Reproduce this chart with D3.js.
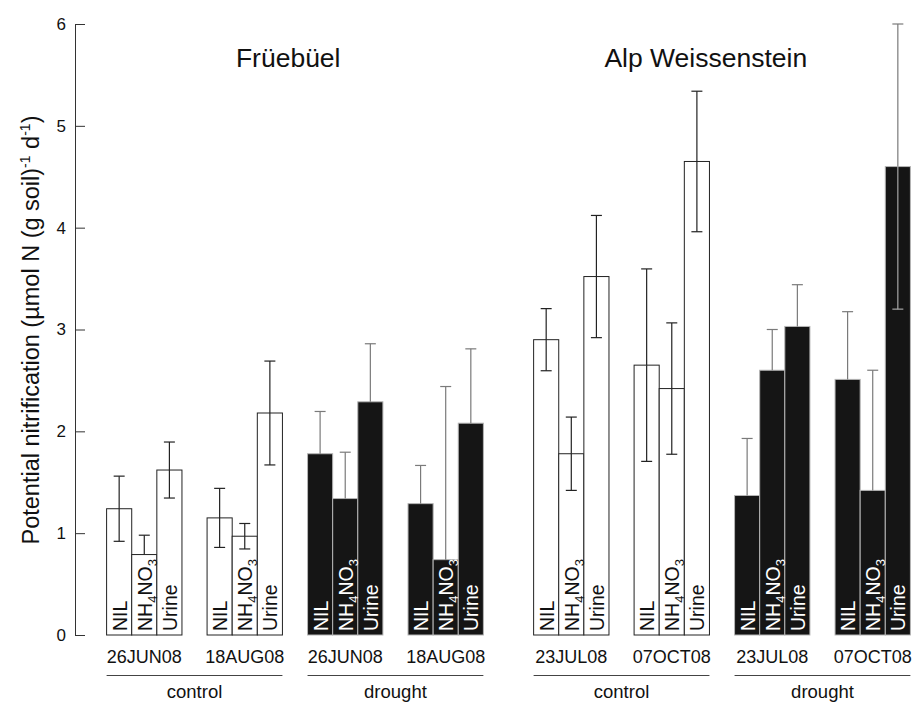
<!DOCTYPE html>
<html>
<head>
<meta charset="utf-8">
<script src="https://cdn.jsdelivr.net/npm/d3@7"></script>
<style>
  html, body { margin: 0; padding: 0; background: #fff; }
  svg { display: block; font-family: "Liberation Sans", Arial, Helvetica, sans-serif; }
</style>
</head>
<body>
<svg id="chart" width="915" height="704"></svg>
<script>
// ---------------- data ----------------
const sites = ["Früebüel", "Alp Weissenstein"];
const treatments = ["control", "drought"];
const siteDates = [["26JUN08", "18AUG08"], ["23JUL08", "07OCT08"]];
const fertilizers = ["NIL", "NH4NO3", "Urine"];
const yTicks = [0, 1, 2, 3, 4, 5, 6];

// means per group (site, treatment, date) : NIL, NH4NO3, Urine
const meanFrCtrl26Jun = [1.24, 0.79, 1.62];
const meanFrCtrl18Aug = [1.15, 0.97, 2.18];
const meanFrDrou26Jun = [1.78, 1.34, 2.29];
const meanFrDrou18Aug = [1.29, 0.74, 2.08];
const meanAwCtrl23Jul = [2.90, 1.78, 3.52];
const meanAwCtrl07Oct = [2.65, 2.42, 4.65];
const meanAwDrou23Jul = [1.37, 2.60, 3.03];
const meanAwDrou07Oct = [2.51, 1.42, 4.60];

// standard errors
const errFrCtrl26Jun = [0.32, 0.19, 0.275];
const errFrCtrl18Aug = [0.29, 0.125, 0.51];
const errFrDrou26Jun = [0.415, 0.455, 0.57];
const errFrDrou18Aug = [0.375, 1.70, 0.73];
const errAwCtrl23Jul = [0.305, 0.36, 0.60];
const errAwCtrl07Oct = [0.945, 0.645, 0.69];
const errAwDrou23Jul = [0.56, 0.40, 0.41];
const errAwDrou07Oct = [0.665, 1.18, 1.40];

// whether the lower whisker is visible in the figure
const lowFrCtrl26Jun = [true, false, true];
const lowFrCtrl18Aug = [true, true, true];
const lowFrDrou26Jun = [false, false, false];
const lowFrDrou18Aug = [false, false, false];
const lowAwCtrl23Jul = [true, true, true];
const lowAwCtrl07Oct = [true, true, true];
const lowAwDrou23Jul = [false, false, false];
const lowAwDrou07Oct = [false, false, true];

const groupMeans = [meanFrCtrl26Jun, meanFrCtrl18Aug, meanFrDrou26Jun, meanFrDrou18Aug,
                    meanAwCtrl23Jul, meanAwCtrl07Oct, meanAwDrou23Jul, meanAwDrou07Oct];
const groupErrs = [errFrCtrl26Jun, errFrCtrl18Aug, errFrDrou26Jun, errFrDrou18Aug,
                   errAwCtrl23Jul, errAwCtrl07Oct, errAwDrou23Jul, errAwDrou07Oct];
const groupLows = [lowFrCtrl26Jun, lowFrCtrl18Aug, lowFrDrou26Jun, lowFrDrou18Aug,
                   lowAwCtrl23Jul, lowAwCtrl07Oct, lowAwDrou23Jul, lowAwDrou07Oct];

// build records
const groups = [];
const bars = [];
groupMeans.forEach((means, g) => {
  const si = Math.floor(g / 4), k = g % 4;
  const grp = { site: sites[si], treatment: treatments[Math.floor(k / 2)], date: siteDates[si][k % 2], slot: k };
  groups.push(grp);
  means.forEach((m, f) => {
    bars.push({ ...grp, fert: fertilizers[f], mean: m, err: groupErrs[g][f], low: groupLows[g][f] });
  });
});

// ---------------- scales ----------------
const svg = d3.select("#chart");
const y = d3.scaleLinear().domain([0, 6]).range([635, 24]);
const xSite = d3.scaleBand().domain(sites).range([106.6, 910.4]).paddingInner(2 / 17).paddingOuter(0);
const xGroup = d3.scaleBand().domain([0, 1, 2, 3]).range([0, xSite.bandwidth()]).paddingInner(0.25).paddingOuter(0);
const xFert = d3.scaleBand().domain(fertilizers).range([0, xGroup.bandwidth()]).padding(0);
const barX = d => xSite(d.site) + xGroup(d.slot) + xFert(d.fert);
const grpX = d => xSite(d.site) + xGroup(d.slot);

// ---------------- axis ----------------
const axisG = svg.append("g").attr("transform", "translate(75,0)")
  .call(d3.axisLeft(y).tickValues(yTicks).tickFormat(d3.format("d"))
        .tickSizeInner(-10).tickSizeOuter(0).tickPadding(9));
axisG.select(".domain").attr("stroke", "#333");
axisG.selectAll(".tick line").attr("stroke", "#333");
axisG.selectAll(".tick text").attr("font-size", 17).attr("fill", "#111")
  .attr("font-family", '"Liberation Sans", Arial, sans-serif');

// y label
const yl = svg.append("text")
  .attr("transform", "translate(39,330) rotate(-90)")
  .attr("text-anchor", "middle").attr("font-size", 23.5).attr("fill", "#111");
yl.append("tspan").text("Potential nitrification (µmol N (g soil)");
yl.append("tspan").attr("dy", -9).attr("font-size", 14).text("-1");
yl.append("tspan").attr("dy", 9).text(" d");
yl.append("tspan").attr("dy", -9).attr("font-size", 14).text("-1");
yl.append("tspan").attr("dy", 9).text(")");

// ---------------- bars ----------------
const bw = xFert.bandwidth();
svg.append("g").selectAll("rect").data(bars).join("rect")
  .attr("x", d => barX(d)).attr("width", bw)
  .attr("y", d => y(d.mean)).attr("height", d => y(0) - y(d.mean))
  .attr("fill", d => d.treatment === "control" ? "#fff" : "#151515")
  .attr("stroke", d => d.treatment === "control" ? "#222" : "#b5b5b5")
  .attr("stroke-width", 1);

// ---------------- error bars ----------------
const capW = 5.5;
const eg = svg.append("g").attr("fill", "none");
bars.forEach(d => {
  const cx = barX(d) + bw / 2;
  const top = d.mean + d.err, bot = d.mean - d.err;
  const upCol = d.treatment === "control" ? "#222" : "#7a7a7a";
  const lowCol = d.treatment === "control" ? "#222" : "#a8a8a8";
  eg.append("line").attr("x1", cx).attr("x2", cx).attr("y1", y(d.mean)).attr("y2", y(top)).attr("stroke", upCol).attr("stroke-width", 1.2);
  eg.append("line").attr("x1", cx - capW).attr("x2", cx + capW).attr("y1", y(top)).attr("y2", y(top)).attr("stroke", upCol).attr("stroke-width", 1.2);
  if (d.low) {
    eg.append("line").attr("x1", cx).attr("x2", cx).attr("y1", y(d.mean)).attr("y2", y(bot)).attr("stroke", lowCol).attr("stroke-width", 1.2);
    eg.append("line").attr("x1", cx - capW).attr("x2", cx + capW).attr("y1", y(bot)).attr("y2", y(bot)).attr("stroke", lowCol).attr("stroke-width", 1.2);
  }
});

// ---------------- in-bar labels ----------------
const lg = svg.append("g");
bars.forEach(d => {
  const t = lg.append("text")
    .attr("transform", `translate(${barX(d) + 20},${y(0) - 4}) rotate(-90)`)
    .attr("font-size", 19.5)
    .attr("fill", d.treatment === "control" ? "#111" : "#fff");
  if (d.fert === "NH4NO3") {
    t.append("tspan").text("NH");
    t.append("tspan").attr("dy", 5).attr("font-size", 13).text("4");
    t.append("tspan").attr("dy", -5).text("NO");
    t.append("tspan").attr("dy", 5).attr("font-size", 13).text("3");
  } else {
    t.text(d.fert);
  }
});

// ---------------- date labels ----------------
const gw = xGroup.bandwidth();
svg.append("g").selectAll("text").data(groups).join("text")
  .attr("x", d => grpX(d) + gw / 2).attr("y", 663)
  .attr("text-anchor", "middle").attr("font-size", 18).attr("fill", "#111")
  .text(d => d.date);

// ---------------- treatment brackets ----------------
const treatGroups = [];
sites.forEach(s => treatments.forEach((t, ti) => treatGroups.push({ site: s, treatment: t, first: ti * 2, last: ti * 2 + 1 })));
const tg = svg.append("g");
treatGroups.forEach(d => {
  const x0 = xSite(d.site) + xGroup(d.first);
  const x1 = xSite(d.site) + xGroup(d.last) + gw;
  tg.append("line").attr("x1", x0).attr("x2", x1).attr("y1", 675.5).attr("y2", 675.5)
    .attr("stroke", "#444").attr("stroke-width", 1);
  tg.append("text").attr("x", (x0 + x1) / 2).attr("y", 698)
    .attr("text-anchor", "middle").attr("font-size", 18.5).attr("fill", "#111")
    .text(d.treatment);
});

// ---------------- site titles ----------------
const titleFrac = [0.482, 0.457];
svg.append("g").selectAll("text").data(sites).join("text")
  .attr("x", (d, i) => xSite(d) + xSite.bandwidth() * titleFrac[i])
  .attr("y", 67).attr("text-anchor", "middle").attr("font-size", 26.5).attr("fill", "#111")
  .text(d => d);
</script>
</body>
</html>
